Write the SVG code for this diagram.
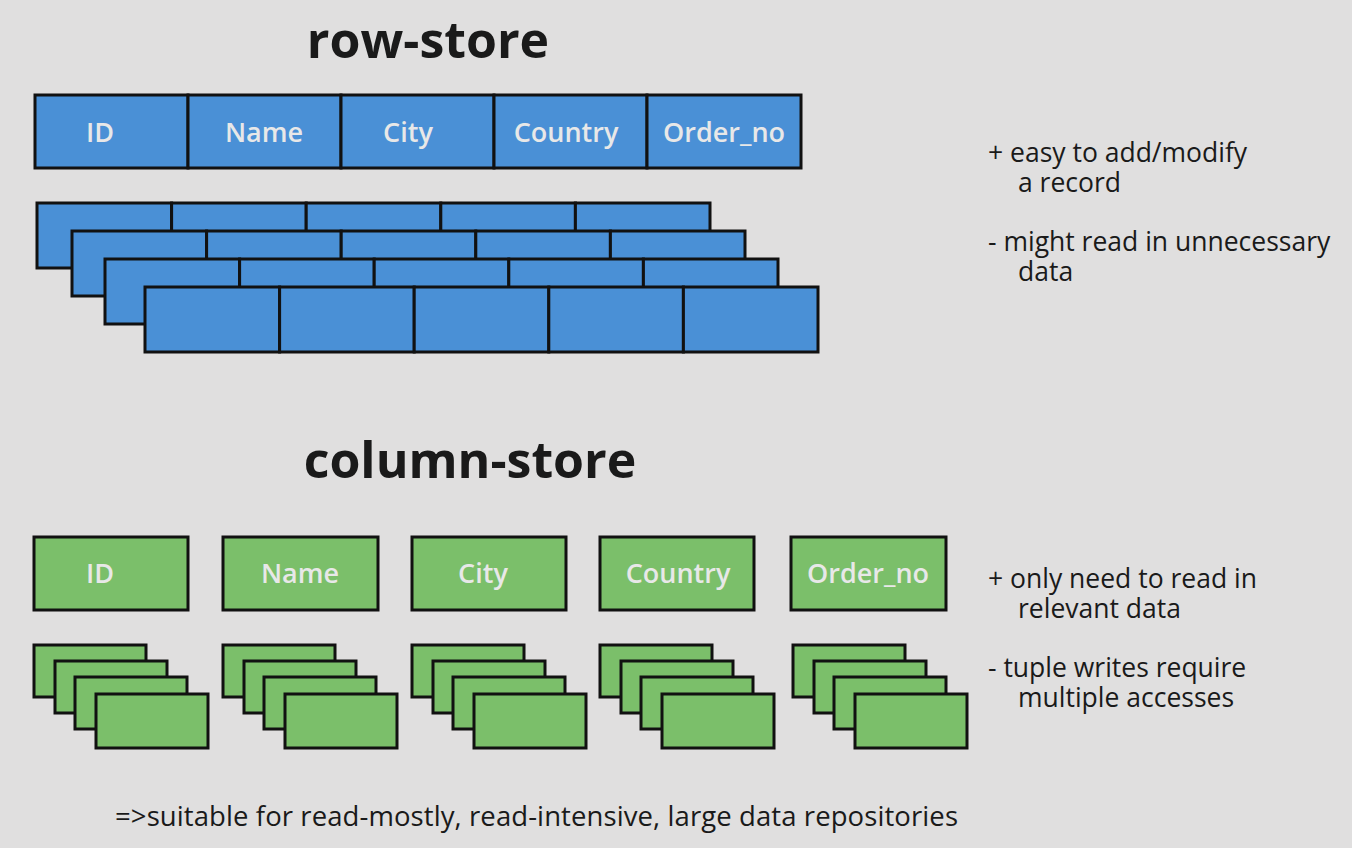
<svg xmlns="http://www.w3.org/2000/svg" width="1352" height="848" viewBox="0 0 1352 848">
<style>
.b{fill:#4a90d6;stroke:#111;stroke-width:3}
.g{fill:#7bbf6a;stroke:#111;stroke-width:3}
.t{font-family:"Open Sans","Liberation Sans",sans-serif;fill:#1a1a1a}
.h{font-family:"Open Sans","Liberation Sans",sans-serif;font-weight:bold;font-size:50px;fill:#1a1a1a;text-anchor:middle}
.c{font-family:"Open Sans","Liberation Sans",sans-serif;font-size:27px;font-weight:600;fill:#e8e8e8;text-anchor:middle}
.n{font-size:26.5px}
.f{font-size:27.5px}
</style>
<defs>
<g id="row">
<rect class="b" x="0" y="0" width="134.6" height="65"/><rect class="b" x="134.6" y="0" width="134.6" height="65"/><rect class="b" x="269.2" y="0" width="134.6" height="65"/><rect class="b" x="403.8" y="0" width="134.6" height="65"/><rect class="b" x="538.4" y="0" width="134.6" height="65"/>
</g>
<g id="stk">
<rect class="g" x="0" y="0" width="112" height="52"/><rect class="g" x="21" y="16" width="112" height="52"/><rect class="g" x="41" y="32" width="112" height="52"/><rect class="g" x="62" y="49" width="112" height="54"/>
</g>
</defs>
<rect width="1352" height="848" fill="#e0dfdf"/>
<text class="h" x="428" y="58">row-store</text>
<g id="row-header">
<rect class="b" x="35" y="95" width="153" height="73"/><text class="c" x="100" y="142">ID</text>
<rect class="b" x="188" y="95" width="153" height="73"/><text class="c" x="264" y="142">Name</text>
<rect class="b" x="341" y="95" width="153" height="73"/><text class="c" x="408" y="142">City</text>
<rect class="b" x="494" y="95" width="153" height="73"/><text class="c" x="566" y="142">Country</text>
<rect class="b" x="647" y="95" width="154" height="73"/><text class="c" x="724" y="142">Order_no</text>
</g>
<g id="row-records">
<use href="#row" x="37" y="203"/>
<use href="#row" x="72" y="231"/>
<use href="#row" x="105" y="259"/>
<use href="#row" x="145" y="287"/>
</g>
<g id="row-notes" class="t n">
<text x="988" y="162">+ easy to add/modify</text>
<text x="1018" y="192">a record</text>
<text x="988" y="251">- might read in unnecessary</text>
<text x="1018" y="281">data</text>
</g>
<text class="h" x="470" y="478">column-store</text>
<g id="col-headers">
<rect class="g" x="34" y="537" width="154" height="73"/><text class="c" x="100" y="583">ID</text>
<rect class="g" x="223" y="537" width="155" height="73"/><text class="c" x="300" y="583">Name</text>
<rect class="g" x="412" y="537" width="154" height="73"/><text class="c" x="483" y="583">City</text>
<rect class="g" x="600" y="537" width="154" height="73"/><text class="c" x="678" y="583">Country</text>
<rect class="g" x="791" y="537" width="155" height="73"/><text class="c" x="868" y="583">Order_no</text>
</g>
<g id="col-stacks">
<use href="#stk" x="34" y="645"/>
<use href="#stk" x="223" y="645"/>
<use href="#stk" x="412" y="645"/>
<use href="#stk" x="600" y="645"/>
<use href="#stk" x="793" y="645"/>
</g>
<g id="col-notes" class="t n">
<text x="988" y="588">+ only need to read in</text>
<text x="1018" y="618">relevant data</text>
<text x="988" y="677">- tuple writes require</text>
<text x="1018" y="707">multiple accesses</text>
</g>
<text class="t f" x="115" y="826" textLength="843">=&gt;suitable for read-mostly, read-intensive, large data repositories</text>
</svg>
